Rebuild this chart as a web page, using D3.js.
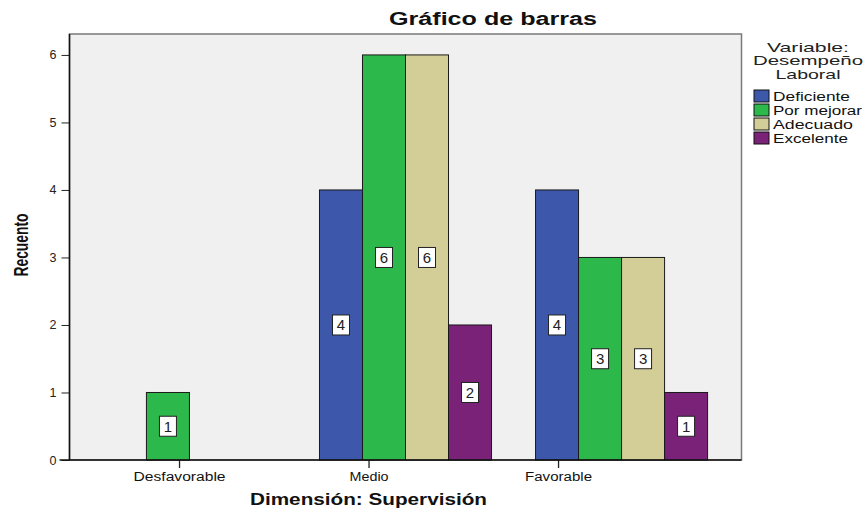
<!DOCTYPE html>
<html>
<head>
<meta charset="utf-8">
<script src="https://cdn.jsdelivr.net/npm/d3@7"></script>
<style>
  body { margin: 0; background: #fff; }
  svg { display: block; font-family: "Liberation Sans", Arial, sans-serif; }
</style>
</head>
<body>
<svg id="chart" width="868" height="508"></svg>
<script>
// categories on the x axis
var categories = ["Desfavorable", "Medio", "Favorable"]
// legend series
var series = ["Deficiente", "Por mejorar", "Adecuado", "Excelente"]
var seriesColors = ["#3d57aa", "#2db84b", "#d3cd98", "#7a2277"]
// counts per category, one row per series (null = no bar)
var deficiente = [null, 4, 4]
var porMejorar = [1, 6, 3]
var adecuado = [null, 6, 3]
var excelente = [null, 2, 1]
var yTicks = [0, 1, 2, 3, 4, 5, 6]

var values = [deficiente, porMejorar, adecuado, excelente]

var svg = d3.select("#chart")
var margin = { top: 34, left: 69.5, right: 126.5, bottom: 48 }
var W = 868, H = 508
var x0 = margin.left, x1 = W - margin.right
var y0 = H - margin.bottom, y1 = margin.top

var x = d3.scaleBand().domain(categories).range([x0, x1])
    .paddingInner(0.2037).paddingOuter(0.157)
var xs = d3.scaleBand().domain(series).range([0, x.bandwidth()])
var y = d3.scaleLinear().domain([0, 6.31]).range([y0, y1])

// SPSS puts the category ticks off-center; mimic that
var xTick = d3.scalePoint().domain(categories)
    .range([x0 + (x1 - x0) * 0.163, x0 + (x1 - x0) * 0.727])

// stretch a text to the width it has in the picture
function fit(sel, len) {
    sel.attr("textLength", len).attr("lengthAdjust", "spacingAndGlyphs")
}

// plot background + frame
svg.append("rect")
    .attr("x", x0).attr("y", y1)
    .attr("width", x1 - x0).attr("height", y0 - y1)
    .attr("fill", "#f0f0f0").attr("stroke", "#7a7a7a").attr("stroke-width", 1.5)

var rows = []
categories.forEach(function (c, ci) {
    series.forEach(function (s, si) {
        var v = values[si][ci]
        if (v != null) rows.push({ cat: c, ser: s, si: si, v: v })
    })
})

var g = svg.append("g")
g.selectAll(".bar")
    .data(rows)
    .enter().append("rect")
    .attr("class", "bar")
    .attr("x", function (d) { return x(d.cat) + xs(d.ser) })
    .attr("y", function (d) { return y(d.v) })
    .attr("width", xs.bandwidth())
    .attr("height", function (d) { return y(0) - y(d.v) })
    .attr("fill", function (d) { return seriesColors[d.si] })
    .attr("stroke", "#1a1a1a").attr("stroke-width", 1)

// value labels
var lab = g.selectAll(".lab")
    .data(rows)
    .enter().append("g")
    .attr("transform", function (d) {
        return "translate(" + (x(d.cat) + xs(d.ser) + xs.bandwidth() / 2) + "," + y(d.v / 2) + ")"
    })
lab.append("rect")
    .attr("x", -8.5).attr("y", -10).attr("width", 17).attr("height", 20)
    .attr("fill", "#fff").attr("stroke", "#222").attr("stroke-width", 1)
lab.append("text")
    .attr("text-anchor", "middle").attr("dy", "0.36em")
    .attr("font-size", 15).attr("fill", "#222")
    .text(function (d) { return d.v })

// y axis
var ya = svg.append("g").attr("transform", "translate(" + x0 + ",0)")
    .call(d3.axisLeft(y).tickValues(yTicks).tickSize(8).tickPadding(5).tickFormat(d3.format("d")))
ya.select(".domain").remove()
ya.selectAll("text").attr("fill", "#222")
    .attr("font-family", "Liberation Sans").style("font-size", "12.5px")
ya.selectAll("line").attr("stroke", "#222")
svg.append("line").attr("x1", x0).attr("x2", x0).attr("y1", y1).attr("y2", y0)
    .attr("stroke", "#111").attr("stroke-width", 1.5)

// x axis
var tickLen = { "Desfavorable": 92, "Medio": 39, "Favorable": 67 }
var xa = svg.append("g").attr("transform", "translate(0," + y0 + ")")
    .call(d3.axisBottom(xTick).tickSize(8).tickPadding(4))
xa.select(".domain").remove()
xa.selectAll("line").attr("stroke", "#222").attr("stroke-width", 1.3)
xa.selectAll("text").attr("fill", "#111")
    .attr("font-family", "Liberation Sans").style("font-size", "12.5px")
    .each(function (d) { fit(d3.select(this), tickLen[d]) })
svg.append("line").attr("x1", x0 - 10).attr("x2", x1).attr("y1", y0).attr("y2", y0)
    .attr("stroke", "#111").attr("stroke-width", 1.5)

// titles
svg.append("text")
    .attr("x", 493).attr("y", 25)
    .attr("text-anchor", "middle").attr("font-weight", "bold")
    .attr("font-size", 18)
    .attr("fill", "#111")
    .text("Gráfico de barras")
    .call(fit, 208)

svg.append("text")
    .attr("x", 368.5).attr("y", 505)
    .attr("text-anchor", "middle").attr("font-weight", "bold")
    .attr("font-size", 16)
    .attr("fill", "#111")
    .text("Dimensión: Supervisión")
    .call(fit, 237)

svg.append("text")
    .attr("transform", "translate(28,245) rotate(-90)")
    .attr("text-anchor", "middle").attr("font-weight", "bold")
    .attr("font-size", 19.5)
    .attr("fill", "#111")
    .text("Recuento")
    .call(fit, 63)

// legend
var legTitle = ["Variable:", "Desempeño", "Laboral"]
var legTitleLen = [82, 110, 65]
svg.append("g").selectAll("text")
    .data(legTitle)
    .enter().append("text")
    .attr("x", 808).attr("y", function (d, i) { return 52 + i * 13.3 })
    .attr("text-anchor", "middle")
    .attr("font-size", 13.5)
    .attr("fill", "#222")
    .text(function (d) { return d })
    .each(function (d, i) { fit(d3.select(this), legTitleLen[i]) })

var legLen = [77, 89, 80, 75]
var leg = svg.append("g").selectAll("g")
    .data(series)
    .enter().append("g")
    .attr("transform", function (d, i) { return "translate(754," + (90 + i * 14) + ")" })
leg.append("rect")
    .attr("width", 15).attr("height", 12)
    .attr("fill", function (d, i) { return seriesColors[i] })
    .attr("stroke", "#111").attr("stroke-width", 1)
leg.append("text")
    .attr("x", 19).attr("y", 11)
    .attr("font-size", 12.5)
    .attr("fill", "#111")
    .text(function (d) { return d })
    .each(function (d, i) { fit(d3.select(this), legLen[i]) })
</script>
</body>
</html>
